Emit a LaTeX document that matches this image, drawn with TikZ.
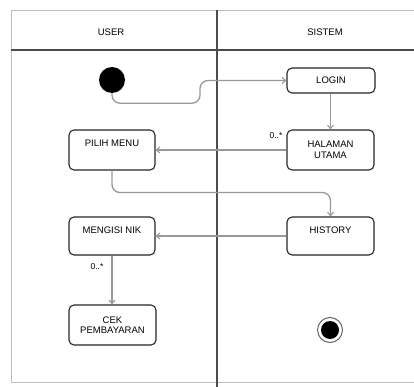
\documentclass[tikz,border=0pt]{standalone}
\usepackage{fontspec}
\setmainfont{Liberation Sans}
\usetikzlibrary{arrows.meta}
\begin{document}
\begin{tikzpicture}[x=1pt,y=-1pt,
  txt/.style={font=\fontsize{9.5}{10.5}\selectfont,align=center},
  act/.style={txt,draw=black!85,line width=1.1pt,rounded corners=5pt,fill=white,inner sep=0pt},
  toplbl/.style={label={[txt,anchor=north,yshift=-7pt]north:#1}},
  lbl/.style={txt,inner sep=0pt},
  mult/.style={font=\fontsize{8.5}{9}\selectfont,inner sep=0pt},
  flow/.style={draw=black!40,line width=1.3pt,rounded corners=8pt,-{Straight Barb[length=3.5pt,width=6pt,line width=1.1pt]}},
  lane/.style={draw=black!70,line width=1.1pt},
  frame/.style={draw=black!25,line width=0.8pt}]
\useasboundingbox (0,0) rectangle (414,387);
% frame and lanes
\draw[frame] (414,10) -- (11,10) -- (11,382) -- (414,382);
\draw[lane] (11,50) -- (414,50);
\draw[lane] (217,10) -- (217,387);
\node[lbl] (huser) at (111,32) {USER};
\node[lbl] (hsis) at (325,32) {SISTEM};
% nodes
\node[circle,fill=black,minimum size=26pt,inner sep=0pt] (start) at (112,80) {};
\node[act,minimum width=88pt,minimum height=25pt] (login) at (331,80.5) {LOGIN};
\node[act,minimum width=87pt,minimum height=40pt] (hal) at (330.5,150) {HALAMAN\\UTAMA};
\node[act,minimum width=86pt,minimum height=40pt,toplbl={PILIH MENU}] (pilih) at (112,150) {};
\node[act,minimum width=87pt,minimum height=38pt,toplbl={HISTORY}] (hist) at (330.5,236) {};
\node[act,minimum width=86pt,minimum height=38pt,toplbl={MENGISI NIK}] (nik) at (112,236) {};
\node[act,minimum width=87pt,minimum height=40pt] (cek) at (112.5,325) {CEK\\PEMBAYARAN};
\node[circle,draw=black!60,line width=1pt,minimum size=25pt,inner sep=0pt] (endo) at (330,330) {};
\node[circle,fill=black,minimum size=18pt,inner sep=0pt] (endi) at (endo.center) {};
% connectors
\draw[flow] (start.south) -- ++(0,10) -| (200,80.5) -- (login.west);
\draw[flow] (login.south -| hal.north) -- (hal.north);
\node[mult] (m1) at (276,136) {0..*};
\draw[flow] (hal.west) -- (pilih.east);
\draw[flow] (pilih.south) -- ++(0,22) -| (hist.north);
\draw[flow] (hist.west) -- (nik.east);
\draw[flow] (nik.south) -- (cek.north -| nik.south);
\node[mult] (m2) at (97,267) {0..*};
\end{tikzpicture}
\end{document}
